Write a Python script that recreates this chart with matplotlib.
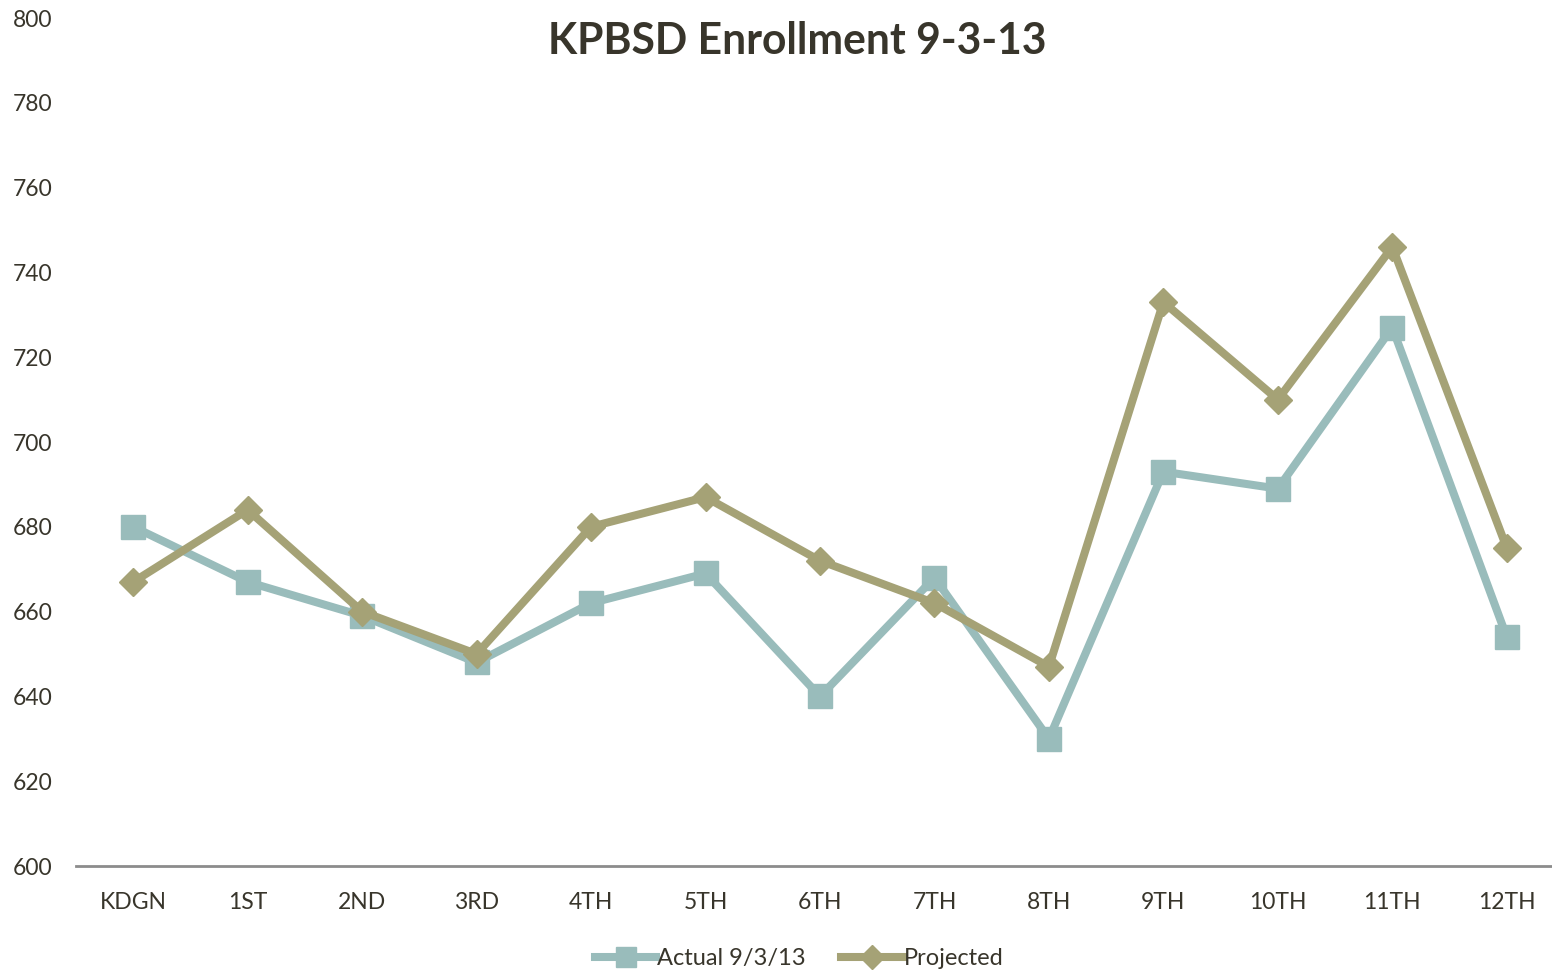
import matplotlib.pyplot as plt

grades = ["KDGN", "1ST", "2ND", "3RD", "4TH", "5TH", "6TH",
          "7TH", "8TH", "9TH", "10TH", "11TH", "12TH"]
actual = [680, 667, 659, 648, 662, 669, 640, 668, 630, 693, 689, 727, 654]
projected = [667, 684, 660, 650, 680, 687, 672, 662, 647, 733, 710, 746, 675]

plt.rcParams["font.family"] = ["Lato", "DejaVu Sans"]
text_color = "#38352b"

fig = plt.figure(figsize=(15.52, 9.71), dpi=100)
ax = fig.add_axes([76 / 1552, 105 / 971, 1488 / 1552, 848 / 971])

x = range(len(grades))
ax.plot(x, actual, color="#99bcbb", lw=5.8, marker="s", ms=17,
        solid_joinstyle="round", label="Actual 9/3/13")
ax.plot(x, projected, color="#a5a276", lw=5.8, marker="D", ms=14,
        solid_joinstyle="round", label="Projected")

ax.set_xlim(-0.5, len(grades) - 0.5)
ax.set_ylim(600, 800)
ax.set_yticks(range(600, 801, 20))
ax.set_xticks(list(x))
ax.set_xticklabels(grades)

for side in ["top", "right", "left"]:
    ax.spines[side].set_visible(False)
ax.spines["bottom"].set_color("#8c8c8c")
ax.spines["bottom"].set_linewidth(2)
ax.tick_params(axis="both", length=0, labelsize=16.5, colors=text_color)
ax.tick_params(axis="y", pad=17)
ax.tick_params(axis="x", pad=19)

fig.text(0.514, 0.958, "KPBSD Enrollment 9-3-13", ha="center", va="center",
         fontsize=30.7, fontweight="bold", color=text_color)

fig.legend(loc="center", bbox_to_anchor=(0.515, 0.013), ncol=2, frameon=False,
           fontsize=17, handlelength=2.6, handletextpad=0.05, columnspacing=1.5,
           labelcolor=text_color, markerscale=0.85)

fig.savefig("out.png", dpi=100)
